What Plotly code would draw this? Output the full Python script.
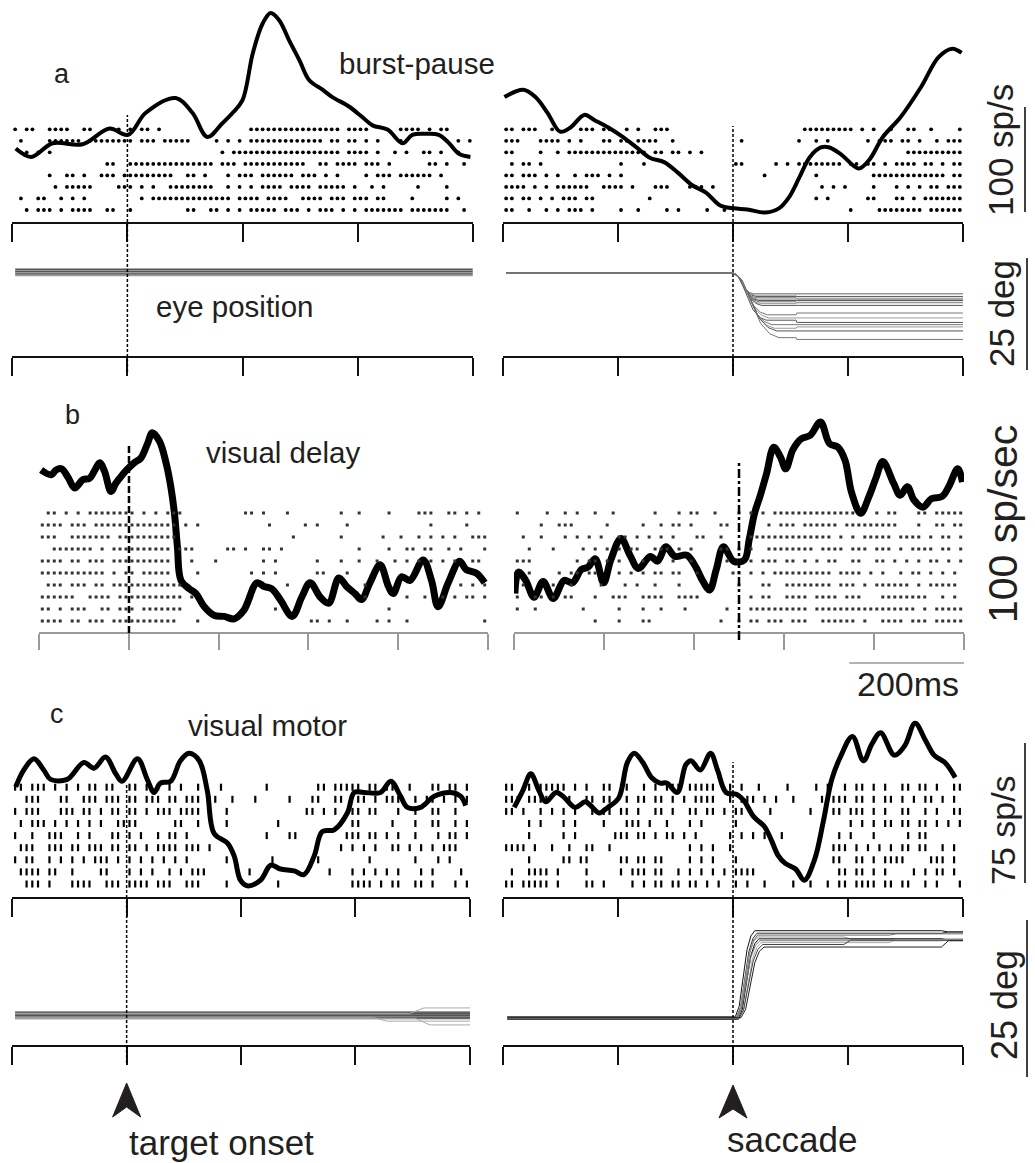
import plotly.graph_objects as go

W, H = 1035, 1163
FONT = "Liberation Sans, Arial, sans-serif"
TXT = "#231f20"

# ------------------------------------------------------------------ data
# firing-rate curves (time in ms relative to event, rate in spikes/s)
A_LEFT_T = [-194, -167, -130, -78, -31, 1, 32, 84, 113, 139, 165, 183, 200, 218, 235, 249, 264,
            281, 299, 316, 339, 356, 385, 408, 426, 452, 478, 495, 518, 541, 559, 576, 596]
A_LEFT_RATE = [70, 62, 75, 74, 89, 83, 104, 118, 104, 81, 94, 104, 116, 161, 189, 199, 192,
               173, 154, 135, 126, 119, 110, 100, 92, 88, 75, 83, 84, 83, 75, 65, 62]
A_RIGHT_T = [-398, -365, -344, -323, -301, -283, -259, -241, -217, -192, -168, -144, -120, -96,
             -71, -47, -23, 1, 25, 56, 80, 98, 116, 134, 153, 168, 189, 219, 237, 261, 292, 328,
             358, 382, 398]
A_RIGHT_RATE = [119, 126, 119, 104, 86, 90, 102, 97, 90, 81, 71, 61, 57, 47, 35, 28, 16, 13, 12,
                9, 13, 24, 43, 62, 71, 71, 64, 51, 59, 81, 100, 129, 157, 165, 161]
B_LEFT_T = [-147, -130, -122, -113, -102, -91, -77, -66, -58, -49, -41, -30, -22, -11, -2, 9, 20,
            31, 39, 51, 62, 70, 76, 81, 87, 101, 112, 126, 142, 159, 176, 192, 214, 226, 239, 253,
            273, 289, 303, 320, 334, 351, 364, 378, 389, 403, 420, 434, 442, 456, 470, 492, 506,
            517, 534, 553, 564, 581, 595]
B_LEFT_RATE = [135, 131, 135, 136, 129, 120, 127, 128, 134, 141, 134, 117, 124, 131, 136, 141,
               145, 157, 166, 159, 141, 121, 99, 71, 43, 36, 32, 21, 14, 13, 11, 18, 41, 38, 36,
               27, 13, 29, 41, 29, 24, 45, 38, 32, 27, 41, 56, 38, 32, 46, 43, 60, 43, 21, 41, 59,
               52, 49, 41]
B_RIGHT_T = [-374, -368, -356, -342, -327, -310, -292, -278, -263, -252, -240, -226, -214, -197,
             -182, -168, -148, -136, -122, -107, -87, -72, -61, -49, -38, -26, -9, 9, 17, 26, 35,
             46, 58, 69, 78, 90, 104, 119, 136, 151, 165, 177, 188, 203, 217, 229, 240, 258, 269,
             281, 292, 307, 321, 339, 350, 365, 373]
B_RIGHT_RATE = [32, 50, 43, 29, 42, 28, 43, 41, 52, 54, 61, 41, 60, 78, 64, 53, 63, 59, 71, 63,
                64, 54, 43, 35, 52, 71, 59, 60, 77, 99, 113, 132, 154, 146, 136, 152, 161, 164,
                175, 157, 154, 143, 116, 99, 113, 129, 142, 124, 114, 121, 110, 104, 111, 113,
                121, 136, 125]
C_LEFT_T = [-194, -180, -162, -145, -133, -104, -75, -57, -37, -19, -8, 19, 36, 48, 59, 77, 94,
            109, 127, 141, 153, 176, 188, 199, 211, 234, 252, 269, 293, 310, 328, 342, 363, 386,
            398, 415, 444, 462, 479, 491, 514, 538, 567, 584, 593]
C_LEFT_RATE = [59, 68, 74, 68, 63, 63, 72, 69, 75, 66, 62, 74, 63, 56, 61, 62, 73, 77, 73, 57,
               34, 29, 22, 9, 6, 9, 17, 15, 14, 12, 22, 35, 36, 45, 56, 56, 56, 62, 54, 48, 48,
               54, 56, 54, 49]
C_RIGHT_T = [-381, -366, -352, -338, -326, -308, -296, -275, -257, -248, -233, -218, -199, -184,
             -172, -157, -142, -127, -115, -97, -82, -73, -57, -39, -27, -12, 6, 18, 36, 54, 66,
             79, 91, 109, 124, 142, 157, 172, 187, 208, 227, 242, 257, 281, 299, 317, 335, 350,
             369, 387]
C_RIGHT_RATE = [48, 57, 66, 57, 51, 56, 54, 48, 51, 49, 45, 48, 53, 72, 77, 72, 64, 61, 61, 56,
                71, 73, 68, 77, 68, 56, 55, 52, 43, 38, 31, 22, 18, 15, 9, 20, 40, 63, 75, 86,
                73, 82, 88, 76, 81, 93, 84, 76, 72, 64]

# spike rasters: one string per trial (top trial first); '#' = spike in a 10 ms bin
RASTER_A_LEFT = [
    "#-##--#### --##--###- #-##-#---- ---------- -######### #######-## ##-----### #-#-##----",
    "-#----#### ##-####### #-###-#### #----#-#-# -######### ####-##-## -#-#---#-- -----#-#-#",
    "--#-#-#--- ---------- ---------- ------#-## ########## #######-## ##-#--#-#- -##-#--#--",
    "---------- ------##-- ########## #####-###- ########## #--##-#### -###-#---- --##-#--#-",
    "------#--# #-#--###-# ########-- ##-#---#-# ##-######- ###-#-#--- -#-###-### ###-#-----",
    "-------#-# ####----## #-#-#--### #####--#-# -#-####-## ##-#####-# --#-#----- #----#----",
    "-#--##--#- #-#------- --#-###### ########-# ###-####-- ####-###-# ##-##----# -----#-#--",
    "--#-###-#- ####--##-- #--------- ##--##-#-# -#####-### -#-###-#-# -#######-# ######--#-",
]
RASTER_A_RIGHT = [
    "##-###--#- ---###-##- -#-#--###- ---------- ---------- --######## #-#-#--#-- ##--#----#",
    "###---#### -#-#---##- ##-####--# ---------- -#-------- -#--#-#--- ---#-###-# #-#--#-###",
    "##----#--# -######### #####-##-# #-#-#----- ---------- ---------- ---------- ##########",
    "-#-##-#--- ---------- #---#----- ---------- ##-----#-# -########- ##-##-#-## ##-##-#-##",
    "##-###-#-# --#-###-#- #--------- ---------- -----#---- ----#----- ----###### #######-##",
    "####-#-#-# #####--### #-#---###- --###-#--- ---------- -----#-#-# ----#---#- #-#-##-###",
    "##-##-#-#- ###-##---- -----#---- ---------- ---------- ----#-#--- ---##---## -#-#######",
    "##--#--#-# -###-#---- #--#----#- #----#--#- ---------- ---------- #----##### ###-######",
]
RASTER_B_LEFT = [
    "-##-#-#-####### #-#-#-###------ ----##-#---#--- -----#--#----#- ---###--##-#-#-",
    "####-###-###### ########-#-#--- --------#-----# -#----#-------- -----#-----#---",
    "###--#######-## ########------- ------------#-- -----#------#-- #--#-#-#-#--###",
    "--#######-#-### #######-###---- -##-#--##-#---- --------#----#- -##-##--#-#---#",
    "####-##-###-### #######---#---# -------#-#----- -#---#--#--#--# -#-#-#-#-#--##-",
    "###########-#-# #-#####----#--- -----#-#-#----- -##---#-------- ---------------",
    "-###-###-##-### #########------ -----------#--- ---------#----- ----------#-#-#",
    "######--####-## #########-#---- --------------- ---------#----- -#--#--#-#-##-#",
    "##-#-###--##-## #-#######------ ---------#----- -------------#- ---------------",
    "####-##-###-### ########---#--- --------------- ##-#--#----#-#- -#------------#",
]
RASTER_B_RIGHT = [
    "#----#--#-#--#- -#------#---#-# #--#---#-#-#-## ############--- #-##---##-#####",
    "----#--###----- #-----#--#-##-# ----##------#-# ##-######-##### ####---#--##-##",
    "-#--#---#-#-#-# --##-#-#-#-#--- ##--#----###### ########-#-#-## ###-####-#-##-#",
    "--#---#----#-#- #-#-##--###-#-# ----##-#-#--### #####-####-###- ###-#-####-##-#",
    "###-------#-##- #-#---#----#--# -----#-#-#-###- ##-#-#-##--##-- ##-#-#-#-##-#-#",
    "--#----#-##-##- --#-#-#-##-##-- #-----##-#-#-## ########-####-# -#--#-##-#-#-#-",
    "-#----#--#----# ---#-#--#---#-- -------#---##-- ########-###-#- ######-#-#####-",
    "#--##-#-##---#- -###--####--### #--------#-##-- ####-####-###-- -########--#-#-",
    "#--#-------#--- --#---#--#---#- -----#---###### ####-########## #######-#-#####",
    "-------------#- --#---##------- ----#--#-##-### -###--######-#- -####-###-#####",
]
RASTER_C_LEFT = [
    "##-###-#-# -#-##-##-- ##-#-#-#-# --#---#--- ----#----- ---##-#### #-##-##--# ---##-##-#",
    "--###---## --###-###- ##-###-##- ###-##--#- --#-----#- --##--##-- ##-#-###-- #-##-#-#-#",
    "#-###---## #-##-#-##- ##-#-###-# ###----#-- ---------- -##-#-#--# #-##---#-- #--##--#--",
    "-#-###-#-# -#-#-#--## ##------## --#----#-- ------#--- ---------# #-----#--- #--##--#-#",
    "#--#--###- -#-#---##- #-#--#-##- #--------- ----#---## --------## #-##-#-#-- #---#-##-#",
    "-###--###- ##-###-##- ##-#-####- ###-#----- ---------- -------#-# -#-#--##-# -#-#-###--",
    "#-##--#-#- #-#-###-#- #-#-#-#-#- #------#-- -----#---- ---#------ --#------- #---#-#---",
    "-####-##-- #----##--- #-#-#--#-# -###------ -#-------- -----#---# -#-#-#-#-- -#-#----#-",
    "--###-#--- ####--###- ####-###-- ###----#-- ------#--- ---------# ###-#-##-- ##-#---#-#",
]
RASTER_C_RIGHT = [
    "##--#-#### #-#-#--##- ##--#-#-## #-#####--# -#--#----# ----#-#--# -##-#-#--# #-##-#--##",
    "###-####-- -#--##-##- -#-##-##-# -#-####--# -###-#-#-- #----#-### -##-#-##-# -#-##-#-#-",
    "##-#--#-#- #-#--#-##- ##-#--##-# --##-##-#- ##----#--- ---#---##- ###-#-#--# #--#-#--##",
    "----#-#--- #-#----#-- -###-#--#- --#-#----- #--------- ---------- #-#-#-##-# #-##-#-#-#",
    "----#----- #-#------# ##-##-#-## -#-#-----# -#-#-#--#- --------#- #---#----- #-##------",
    "####-#--#- -#--##--#- ---------- --#-#-#--# ---------- -------### -#-#-#-#-# #-##--#-#-",
    "----#----- ##-##----- ##-##-##-- --#-#-#--- #--------- -------##- -##-#-#### ----###-#-",
    "-#--####-# ----#----- #-###-##-- #-#-#-#-#- ####------ --------## -##-#-#--- -#-#-##-#-",
    "##-#####-# ----##-#-- --#-#-##-# #-##-#-#-- #-#--#---- #--#--#-## -####-##-# #--#-#---#",
]
RASTER_START = {"aL": -200, "aR": -400, "bL": -150, "bR": -375, "cL": -200, "cR": -400}
BIN_MS = 10

# eye position (deg relative to fixation)
EYE_A_LEFT_LEVELS = [0.75, 0.45, 0.2, -0.05, -0.3, -0.6]
EYE_A_LEFT_T = [-195, 600]
EYE_A_RIGHT_FINAL = [-4.7, -5.0, -5.3, -5.6, -5.9, -6.2, -6.5, -6.9, -7.3, -9.4, -10.1, -10.6,
                     -11.6, -12.4, -13.0, -14.5]
EYE_A_RIGHT_REACH = [36, 38, 40, 40, 42, 44, 46, 48, 50, 60, 62, 58, 68, 72, 76, 80]
EYE_A_RIGHT_STEP = [0, 0.3, 0, -0.3, 0.2, 0, -0.2, 0.3, 0, 0.4, 0, -0.5, 0, 0.3, 0, -0.4]
SACC_PROFILE_T = [0.0, 0.2, 0.4, 0.6, 0.8, 1.0]
SACC_PROFILE_P = [0.0, 0.12, 0.45, 0.78, 0.94, 1.0]
EYE_C_LEFT_LEVELS = [0.95, 0.8, 0.65, 0.5, 0.35, 0.15, 0.0, -0.1]
EYE_C_LEFT_DRIFT_T = [[-195, 430, 455, 612], [-195, 495, 520, 612], [-195, 505, 530, 612]]
EYE_C_LEFT_DRIFT_D = [[0.1, 0.1, -0.5, -0.5], [0.7, 0.7, 1.6, 1.6], [-0.05, -0.05, -1.1, -1.1]]
EYE_C_RIGHT_PRE = [0.2, 0.1, 0.0, -0.1, -0.2, 0.15, -0.05, -0.15, 0.05]
EYE_C_RIGHT_FINAL = [13.9, 13.5, 13.2, 12.9, 12.6, 12.3, 12.0, 11.7, 11.3]
EYE_C_RIGHT_ONSET = [4, 6, 8, 5, 9, 7, 11, 10, 14]
EYE_C_RIGHT_DUR = [34, 36, 35, 38, 36, 40, 38, 42, 40]
EYE_C_RIGHT_ADJ_T = [363, 363, 272, 193, 363, 363, 272, 193, 363]
EYE_C_RIGHT_END = [13.7, 13.7, 13.4, 12.6, 12.4, 12.4, 12.5, 12.4, 12.3]

# scale bars (value ranges in the units of the axis they annotate)
SCALE_RATE_A = (9.5, 109.5)      # 100 sp/s
SCALE_EYE_A = (3.3, -21.7)       # 25 deg
SCALE_RATE_C = (7.5, 82.5)       # 75 sp/s
SCALE_EYE_C = (15.6, -9.4)       # 25 deg
SCALE_TIME_B = (184, 384)        # 200 ms


# ------------------------------------------------------------------ layout helpers
def X(px):
    return px / W


def Y(py):
    return 1 - py / H


def xr(n):
    return "x" if n == 1 else f"x{n}"


def yr(n):
    return "y" if n == 1 else f"y{n}"


def xk(n):
    return "xaxis" if n == 1 else f"xaxis{n}"


def yk(n):
    return "yaxis" if n == 1 else f"yaxis{n}"


BLACK = "#111111"
GRAY_AX = "#9a9a9a"

# panel geometry in pixels: x-domain, y-domain (top, bottom), time range, tick values
PANELS = {
    1: dict(xd=(12, 473), yd=(5, 222), rng=(-200, 600), ticks=[-200, 0, 200, 400, 600], col=BLACK, tl=18),
    2: dict(xd=(503, 963), yd=(5, 222), rng=(-400, 400), ticks=[-400, -200, 0, 200, 400], col=BLACK, tl=18),
    3: dict(xd=(12, 473), yd=(240, 356), rng=(-200, 600), ticks=[-200, 0, 200, 400, 600], col=BLACK, tl=18),
    4: dict(xd=(503, 963), yd=(240, 356), rng=(-400, 400), ticks=[-400, -200, 0, 200, 400], col=BLACK, tl=18),
    5: dict(xd=(39, 488), yd=(395, 632), rng=(-150, 600), ticks=[-150, 0, 150, 300, 450, 600], col=GRAY_AX, tl=16),
    6: dict(xd=(514, 964), yd=(395, 632), rng=(-375, 375), ticks=[-375, -225, -75, 75, 225, 375], col=GRAY_AX, tl=16),
    7: dict(xd=(12, 470), yd=(700, 897), rng=(-200, 600), ticks=[-200, 0, 200, 400, 600], col=BLACK, tl=18),
    8: dict(xd=(503, 963), yd=(700, 897), rng=(-400, 400), ticks=[-400, -200, 0, 200, 400], col=BLACK, tl=18),
    9: dict(xd=(12, 470), yd=(915, 1045), rng=(-200, 600), ticks=[-200, 0, 200, 400, 600], col=BLACK, tl=18),
    10: dict(xd=(503, 963), yd=(915, 1045), rng=(-400, 400), ticks=[-400, -200, 0, 200, 400], col=BLACK, tl=18),
}
# value mapping for each y axis: (value-zero pixel, pixels per unit)
VALUE_MAP = {1: (222, 1.05), 2: (222, 1.05), 5: (632, 1.2), 6: (632, 1.2), 7: (897, 1.867), 8: (897, 1.867),
             3: (272.7, 4.48), 4: (272.7, 4.48), 9: (1018, 6.28), 10: (1018, 6.28)}
# raster axes: base panel -> (overlay axis id, bottom trial pixel, trial spacing px)
RASTER_MAP = {1: (11, 210, 11.53), 2: (12, 210, 11.53), 5: (15, 621, 12.0), 6: (16, 621, 12.0),
              7: (17, 884, 12.1), 8: (18, 884, 12.1)}


def value_to_paper(n, v):
    z, s = VALUE_MAP[n]
    return Y(z - v * s)


layout = dict(width=W, height=H, autosize=False, margin=dict(l=0, r=0, t=0, b=0),
              paper_bgcolor="white", plot_bgcolor="rgba(0,0,0,0)", showlegend=False)

for n, p in PANELS.items():
    top, bot = p["yd"]
    layout[xk(n)] = dict(domain=[X(p["xd"][0]), X(p["xd"][1])], range=[p["rng"][0] - 0.5, p["rng"][1] + 0.5],
                         anchor=yr(n), showline=True, linecolor=p["col"], linewidth=1.6,
                         ticks="outside", ticklen=p["tl"], tickwidth=1.6, tickcolor=p["col"],
                         tickmode="array", tickvals=p["ticks"], showticklabels=False,
                         showgrid=False, zeroline=False, fixedrange=True)
    z, s = VALUE_MAP[n]
    layout[yk(n)] = dict(domain=[Y(bot), Y(top)], range=[(z - bot) / s, (z - top) / s],
                         anchor=xr(n), visible=False, fixedrange=True)
    if n in RASTER_MAP:
        m, rb, sp = RASTER_MAP[n]
        layout[yk(m)] = dict(overlaying=yr(n), anchor=xr(n), visible=False, fixedrange=True,
                             range=[1 + (rb - bot) / sp, 1 + (rb - top) / sp])

fig = go.Figure()
fig.update_layout(**layout)


# ------------------------------------------------------------------ rasters
def add_raster(rows, start, n, m, style):
    xs, ys = [], []
    ntr = len(rows)
    for i, row in enumerate(rows):
        cells = row.replace(" ", "")
        for j, ch in enumerate(cells):
            if ch == "#":
                xs.append(start + (j + 0.5) * BIN_MS)
                ys.append(ntr - i)
    fig.add_trace(go.Scatter(x=xs, y=ys, mode="markers", xaxis=xr(n), yaxis=yr(m),
                             marker=style, hoverinfo="skip", cliponaxis=False))


DOT_A = dict(symbol="circle", size=3.8, color="black")
DOT_B = dict(symbol="square", size=3.0, color="#333333")
DOT_C = dict(symbol="line-ns", size=5, color="black", line=dict(width=2.2, color="black"))

add_raster(RASTER_A_LEFT, RASTER_START["aL"], 1, 11, DOT_A)
add_raster(RASTER_A_RIGHT, RASTER_START["aR"], 2, 12, DOT_A)
add_raster(RASTER_B_LEFT, RASTER_START["bL"], 5, 15, DOT_B)
add_raster(RASTER_B_RIGHT, RASTER_START["bR"], 6, 16, DOT_B)
add_raster(RASTER_C_LEFT, RASTER_START["cL"], 7, 17, DOT_C)
add_raster(RASTER_C_RIGHT, RASTER_START["cR"], 8, 18, DOT_C)


# ------------------------------------------------------------------ rate curves
def add_rate(t, r, n, width):
    fig.add_trace(go.Scatter(x=t, y=r, mode="lines", xaxis=xr(n), yaxis=yr(n),
                             line=dict(color="black", width=width, shape="spline", smoothing=1.0),
                             hoverinfo="skip"))


add_rate(A_LEFT_T, A_LEFT_RATE, 1, 4)
add_rate(A_RIGHT_T, A_RIGHT_RATE, 2, 4)
add_rate(B_LEFT_T, B_LEFT_RATE, 5, 7)
add_rate(B_RIGHT_T, B_RIGHT_RATE, 6, 7)
add_rate(C_LEFT_T, C_LEFT_RATE, 7, 5)
add_rate(C_RIGHT_T, C_RIGHT_RATE, 8, 5)


# ------------------------------------------------------------------ eye traces
def add_eye(t, d, n, color, width=1.0):
    fig.add_trace(go.Scatter(x=t, y=d, mode="lines", xaxis=xr(n), yaxis=yr(n),
                             line=dict(color=color, width=width), hoverinfo="skip"))


for k, lev in enumerate(EYE_A_LEFT_LEVELS):
    add_eye(EYE_A_LEFT_T, [lev, lev], 3, ["#555555", "#999999"][k % 2], 1.5)

A_R_COLORS = ["#777777", "#999999", "#555555"]
for k, (fin, reach, step) in enumerate(zip(EYE_A_RIGHT_FINAL, EYE_A_RIGHT_REACH, EYE_A_RIGHT_STEP)):
    ts = [-395] + [reach * f for f in SACC_PROFILE_T] + [110, 111, 404]
    ds = [0] + [fin * p for p in SACC_PROFILE_P] + [fin, fin + step, fin + step]
    add_eye(ts, ds, 4, A_R_COLORS[k % 3], 1.0)

for k, lev in enumerate(EYE_C_LEFT_LEVELS):
    add_eye([-195, 605], [lev, lev], 9, ["#333333", "#666666"][k % 2], 1.2)
for ts, ds in zip(EYE_C_LEFT_DRIFT_T, EYE_C_LEFT_DRIFT_D):
    add_eye(ts, ds, 9, "#aaaaaa", 1.0)

C_R_COLORS = ["#111111", "#333333", "#666666", "#999999", "#111111", "#777777", "#aaaaaa", "#444444", "#222222"]
for k in range(len(EYE_C_RIGHT_FINAL)):
    pre, fin = EYE_C_RIGHT_PRE[k], EYE_C_RIGHT_FINAL[k]
    on, dur = EYE_C_RIGHT_ONSET[k], EYE_C_RIGHT_DUR[k]
    ta, end = EYE_C_RIGHT_ADJ_T[k], EYE_C_RIGHT_END[k]
    ts = [-393] + [on + dur * f for f in SACC_PROFILE_T] + [ta, ta + 12, 411]
    ds = [pre] + [pre + (fin - pre) * p for p in SACC_PROFILE_P] + [fin, end, end]
    add_eye(ts, ds, 10, C_R_COLORS[k], 1.0)

# ------------------------------------------------------------------ event lines
shapes = []


def vline(n, top, bot, dash, width):
    shapes.append(dict(type="line", xref=xr(n), yref="paper", x0=0, x1=0, y0=Y(bot), y1=Y(top),
                       line=dict(color="black", width=width, dash=dash)))


vline(1, 115, 372, "3px,2px", 1.5)
vline(2, 126, 372, "3px,2px", 1.5)
vline(5, 445, 633, "7px,3px", 2.5)
vline(6, 460, 640, "9px,3px,3px,3px", 2.5)
vline(7, 783, 1063, "3px,2px", 1.5)
vline(8, 762, 1063, "3px,2px", 1.5)


# vertical scale bars (drawn in paper space so they are not clipped to the panels)
def vbar(n, xpx, rng):
    shapes.append(dict(type="line", xref="paper", yref="paper", x0=X(xpx), x1=X(xpx),
                       y0=value_to_paper(n, rng[0]), y1=value_to_paper(n, rng[1]),
                       line=dict(color="black", width=1.5)))


vbar(2, 1025, SCALE_RATE_A)
vbar(4, 1027, SCALE_EYE_A)
vbar(8, 1025, SCALE_RATE_C)
vbar(10, 1027, SCALE_EYE_C)
shapes.append(dict(type="line", xref=xr(6), yref="paper", x0=SCALE_TIME_B[0], x1=SCALE_TIME_B[1],
                   y0=Y(663), y1=Y(663), line=dict(color=GRAY_AX, width=1.6)))


# arrowheads marking the events
def arrow(n, tip, base, notch, half_ms):
    path = (f"M 0,{Y(tip)} L {half_ms},{Y(base)} L 0,{Y(notch)} L {-half_ms},{Y(base)} Z")
    shapes.append(dict(type="path", xref=xr(n), yref="paper", path=path,
                       fillcolor="#231f20", line=dict(color="#231f20", width=1)))


arrow(9, 1083, 1117, 1107, 24.5)
arrow(10, 1085, 1118, 1109, 24.3)

fig.update_layout(shapes=shapes)


# ------------------------------------------------------------------ text
def label(text, x, y, size, angle=0):
    fig.add_annotation(text=text, x=X(x), y=Y(y), xref="paper", yref="paper", showarrow=False,
                       font=dict(family=FONT, size=size, color=TXT), textangle=angle,
                       xanchor="center", yanchor="middle")


label("a", 62, 74, 27)
label("burst-pause", 417, 64, 29.5)
label("eye position", 234, 306, 29.5)
label("b", 72, 415, 27)
label("visual delay", 283, 452, 29.5)
label("c", 57, 714, 27)
label("visual motor", 267, 725, 29.5)
label("200ms", 908, 684, 34)
label("target onset", 221, 1142, 35)
label("saccade", 792, 1139, 35)
label("100 sp/s", 1000, 150, 35, -90)
label("25 deg", 1001, 314, 35, -90)
label("100 sp/sec", 1003, 524, 41, -90)
label("75 sp/s", 1003, 830, 34, -90)
label("25 deg", 1004, 1005, 36, -90)

fig.write_html("out.html", config={"displayModeBar": False},
               post_script="document.body.style.margin='0px';document.body.style.padding='0px';")
